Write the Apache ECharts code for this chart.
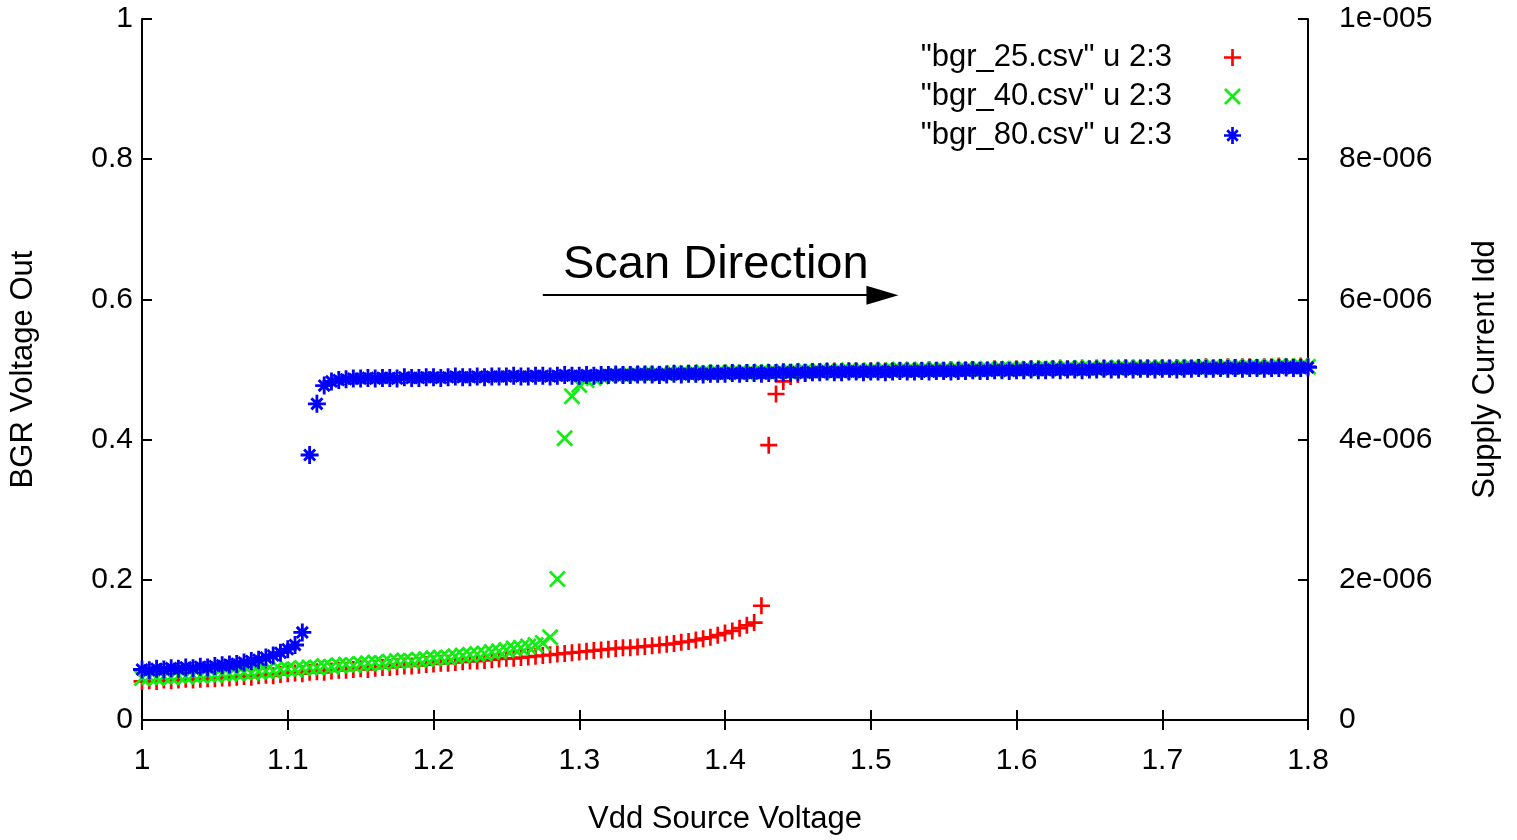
<!DOCTYPE html>
<html>
<head>
<meta charset="utf-8">
<script src="https://cdn.jsdelivr.net/npm/echarts@6/dist/echarts.min.js"></script>
<style>
html,body{margin:0;padding:0;background:#fff;}
#chart{width:1517px;height:840px;}
</style>
</head>
<body>
<div id="chart"></div>
<script>
// Vdd source voltage sweep (x values)
const vdd = [
1.000,1.005,1.010,1.015,1.020,1.025,1.030,1.035,1.040,1.045,
1.050,1.055,1.060,1.065,1.070,1.075,1.080,1.085,1.090,1.095,
1.100,1.105,1.110,1.115,1.120,1.125,1.130,1.135,1.140,1.145,
1.150,1.155,1.160,1.165,1.170,1.175,1.180,1.185,1.190,1.195,
1.200,1.205,1.210,1.215,1.220,1.225,1.230,1.235,1.240,1.245,
1.250,1.255,1.260,1.265,1.270,1.275,1.280,1.285,1.290,1.295,
1.300,1.305,1.310,1.315,1.320,1.325,1.330,1.335,1.340,1.345,
1.350,1.355,1.360,1.365,1.370,1.375,1.380,1.385,1.390,1.395,
1.400,1.405,1.410,1.415,1.420,1.425,1.430,1.435,1.440,1.445,
1.450,1.455,1.460,1.465,1.470,1.475,1.480,1.485,1.490,1.495,
1.500,1.505,1.510,1.515,1.520,1.525,1.530,1.535,1.540,1.545,
1.550,1.555,1.560,1.565,1.570,1.575,1.580,1.585,1.590,1.595,
1.600,1.605,1.610,1.615,1.620,1.625,1.630,1.635,1.640,1.645,
1.650,1.655,1.660,1.665,1.670,1.675,1.680,1.685,1.690,1.695,
1.700,1.705,1.710,1.715,1.720,1.725,1.730,1.735,1.740,1.745,
1.750,1.755,1.760,1.765,1.770,1.775,1.780,1.785,1.790,1.795,
1.800];

// BGR voltage out, "bgr_25.csv"
const bgr25 = [
.055,.056,.055,.057,.056,.057,.058,.057,.058,.059,
.059,.060,.060,.061,.062,.061,.063,.064,.063,.065,
.066,.067,.066,.068,.069,.068,.070,.071,.071,.072,
.073,.072,.074,.075,.075,.076,.077,.077,.078,.079,
.080,.081,.081,.082,.083,.084,.084,.085,.086,.087,
.088,.088,.089,.090,.091,.092,.093,.094,.095,.096,
.097,.098,.099,.100,.101,.102,.103,.103,.104,.105,
.106,.107,.108,.109,.111,.112,.114,.116,.118,.121,
.124,.127,.131,.135,.139,.163,.392,.465,.483,.490,
.493,.495,.496,.497,.497,.498,.497,.498,.498,.497,
.498,.499,.498,.498,.499,.499,.498,.499,.500,.499,
.499,.500,.499,.500,.500,.499,.500,.501,.500,.500,
.501,.500,.501,.501,.500,.501,.502,.501,.501,.502,
.501,.502,.502,.501,.502,.503,.502,.502,.503,.502,
.503,.502,.503,.503,.502,.503,.504,.503,.503,.504,
.503,.504,.504,.503,.504,.504,.505,.504,.504,.505,
.504];

// BGR voltage out, "bgr_40.csv"
const bgr40 = [
.060,.061,.060,.062,.061,.063,.062,.064,.063,.065,
.064,.066,.066,.067,.068,.067,.069,.070,.070,.072,
.073,.072,.074,.075,.075,.077,.076,.078,.079,.078,
.080,.081,.082,.081,.083,.084,.085,.084,.086,.087,
.088,.089,.089,.091,.092,.093,.094,.095,.097,.098,
.100,.102,.103,.105,.107,.110,.118,.201,.402,.462,
.478,.485,.488,.490,.491,.492,.492,.493,.493,.494,
.494,.493,.494,.495,.495,.494,.495,.496,.495,.496,
.495,.496,.496,.495,.496,.497,.496,.496,.497,.497,
.497,.498,.497,.498,.498,.497,.498,.499,.498,.498,
.499,.498,.499,.499,.500,.499,.499,.500,.499,.500,
.500,.499,.500,.501,.500,.500,.501,.500,.501,.501,
.501,.501,.500,.501,.502,.501,.501,.502,.501,.502,
.502,.501,.502,.502,.503,.502,.502,.503,.502,.503,
.503,.502,.503,.503,.504,.503,.503,.504,.503,.503,
.504,.503,.504,.504,.503,.504,.505,.504,.504,.505,
.504];

// BGR voltage out, "bgr_80.csv"
const bgr80 = [
.072,.071,.073,.072,.074,.073,.075,.074,.076,.075,
.077,.078,.079,.080,.082,.084,.086,.089,.092,.096,
.101,.107,.125,.378,.451,.477,.483,.485,.486,.487,
.487,.488,.487,.488,.488,.487,.489,.488,.488,.489,
.489,.488,.489,.490,.489,.489,.490,.489,.490,.490,
.490,.491,.490,.490,.491,.491,.490,.491,.492,.491,
.491,.492,.491,.492,.492,.493,.492,.492,.493,.493,
.493,.492,.493,.494,.493,.494,.494,.493,.494,.494,
.494,.495,.494,.495,.495,.494,.495,.495,.496,.495,
.496,.495,.496,.496,.497,.496,.496,.497,.497,.496,
.497,.497,.496,.497,.498,.497,.497,.498,.497,.498,
.498,.497,.498,.498,.499,.498,.498,.499,.499,.498,
.499,.499,.500,.499,.499,.500,.499,.500,.500,.499,
.500,.500,.501,.500,.500,.501,.500,.501,.501,.500,
.501,.501,.500,.501,.501,.502,.501,.501,.502,.501,
.502,.501,.502,.502,.501,.502,.502,.503,.502,.502,
.503];

const seriesNames = ['"bgr_25.csv" u 2:3', '"bgr_40.csv" u 2:3', '"bgr_80.csv" u 2:3'];
const rightTickLabels = ['0', '2e-006', '4e-006', '6e-006', '8e-006', '1e-005'];

const PLUS = 'path://M5.9,0H8.1V5.9H14V8.1H8.1V14H5.9V8.1H0V5.9H5.9Z';
const CROSS = 'path://M1.6,0L7,5.4L12.4,0L14,1.6L8.6,7L14,12.4L12.4,14L7,8.6L1.6,14L0,12.4L5.4,7L0,1.6Z';
const STAR = 'path://M5.9,0H8.1V5.9H14V8.1H8.1V14H5.9V8.1H0V5.9H5.9Z M3.5,1.9L12.1,10.5L10.5,12.1L1.9,3.5Z M10.5,1.9L12.1,3.5L3.5,12.1L1.9,10.5Z';

const FONT = 'Liberation Sans';
const FS_TICK = 30;
const FS_TEXT = 31;

const pairs = ys => vdd.map((x, i) => [x, ys[i]]);

const chart = echarts.init(document.getElementById('chart'), null, {renderer: 'canvas'});

const axisLine = {show: true, lineStyle: {color: '#000', width: 2}};
const axisTick = {show: true, inside: true, length: 10, lineStyle: {color: '#000', width: 2}};
const labelStyle = {color: '#000', fontSize: FS_TICK, fontFamily: FONT};
const nameStyle = {color: '#000', fontSize: FS_TEXT, fontFamily: FONT};

chart.setOption({
  animation: false,
  backgroundColor: '#fff',
  grid: {left: 142, right: 209, top: 19, bottom: 120, containLabel: false, outerBoundsMode: 'none'},
  legend: {
    orient: 'vertical',
    right: 271,
    top: 37,
    align: 'right',
    itemWidth: 17,
    itemHeight: 17,
    itemGap: 8,
    selectedMode: false,
    textStyle: {color: '#000', fontSize: FS_TEXT, fontFamily: FONT, lineHeight: 31, padding: [0, 47, 0, 0]},
    data: seriesNames
  },
  xAxis: [{
    type: 'value', position: 'bottom', min: 1, max: 1.8, interval: 0.1,
    axisLine, axisTick,
    splitLine: {show: false},
    axisLabel: Object.assign({margin: 26}, labelStyle),
    name: 'Vdd Source Voltage', nameLocation: 'middle', nameGap: 84,
    nameTextStyle: nameStyle
  }, {
    type: 'value', position: 'top', min: 1, max: 1.8, interval: 0.1,
    axisLine, axisTick,
    splitLine: {show: false},
    axisLabel: {show: false}
  }],
  yAxis: [{
    type: 'value', position: 'left', min: 0, max: 1, interval: 0.2,
    axisLine, axisTick,
    splitLine: {show: false},
    axisLabel: Object.assign({margin: 9}, labelStyle),
    name: 'BGR Voltage Out', nameLocation: 'middle', nameGap: 103, nameRotate: 90,
    nameTextStyle: nameStyle
  }, {
    type: 'value', position: 'right', min: 0, max: 1e-5, interval: 2e-6,
    axisLine, axisTick,
    splitLine: {show: false},
    axisLabel: Object.assign({margin: 31, formatter: v => rightTickLabels[Math.round(v / 2e-6)]}, labelStyle),
    name: 'Supply Current Idd', nameLocation: 'middle', nameGap: 162, nameRotate: 90,
    nameTextStyle: nameStyle
  }],
  series: [{
    name: seriesNames[0], type: 'scatter', xAxisIndex: 0, yAxisIndex: 0,
    symbol: PLUS, symbolSize: 17,
    itemStyle: {color: '#ff0000', opacity: 1},
    data: pairs(bgr25),
    markLine: {
      silent: true,
      animation: false,
      label: {show: false},
      lineStyle: {color: '#000', width: 2, type: 'solid'},
      symbol: ['none', 'triangle'],
      data: [[
        {coord: [1.275, 0.606], symbol: 'none'},
        {coord: [1.508, 0.606], symbol: 'triangle', symbolSize: [19, 32]}
      ]]
    }
  }, {
    name: seriesNames[1], type: 'scatter', xAxisIndex: 0, yAxisIndex: 0,
    symbol: CROSS, symbolSize: 17,
    itemStyle: {color: '#11ee11', opacity: 1},
    data: pairs(bgr40)
  }, {
    name: seriesNames[2], type: 'scatter', xAxisIndex: 0, yAxisIndex: 0,
    symbol: STAR, symbolSize: 18,
    itemStyle: {color: '#0000ff', opacity: 1},
    data: pairs(bgr80)
  }],
  graphic: [{
    type: 'text', left: 563, top: 242,
    style: {text: 'Scan Direction', fill: '#000', fontSize: 47, fontFamily: FONT}
  }]
});
</script>
</body>
</html>
